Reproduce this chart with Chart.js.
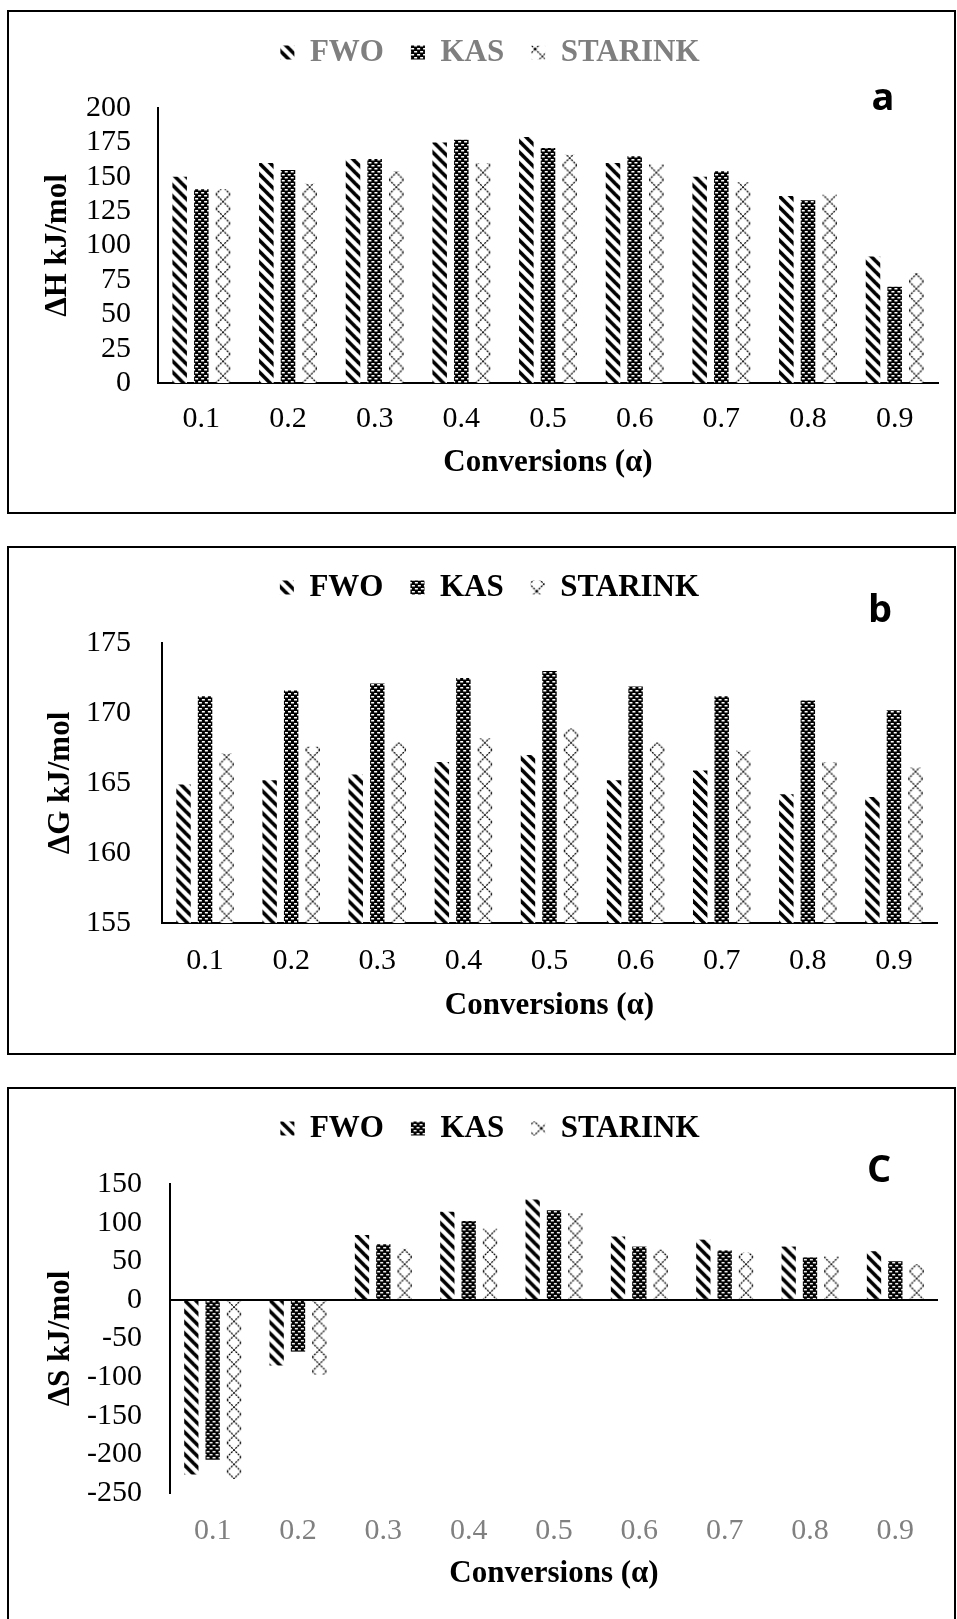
<!DOCTYPE html>
<html>
<head>
<meta charset="utf-8">
<title>ΔH, ΔG, ΔS vs conversion</title>
<script src="https://cdn.jsdelivr.net/npm/chart.js@4.4.1/dist/chart.umd.min.js"></script>
<style>
  html, body { margin: 0; padding: 0; background: #fff; }
  body { position: relative; width: 957px; height: 1619px; overflow: hidden; }
  .frame { position: absolute; left: 7px; width: 949px; border: 2px solid #000; box-sizing: border-box; }
  canvas { position: absolute; left: 0; }
</style>
</head>
<body>
<div class="frame" style="top:10px;height:504px"></div>
<div class="frame" style="top:546px;height:509px"></div>
<div class="frame" style="top:1087px;height:540px"></div>
<canvas id="chartH" width="957" height="514" style="top:0"></canvas>
<canvas id="chartG" width="957" height="521" style="top:534px"></canvas>
<canvas id="chartS" width="957" height="544" style="top:1075px"></canvas>
<script>
const conversions = ["0.1", "0.2", "0.3", "0.4", "0.5", "0.6", "0.7", "0.8", "0.9"];

// ΔH kJ/mol
const enthalpyFWO = [150, 160, 163, 175, 179, 160, 150, 136, 92];
const enthalpyKAS = [141, 155, 163, 177, 171, 165, 154, 133, 70];
const enthalpySTARINK = [141, 145, 154, 160, 166, 159, 146, 137, 80];

// ΔG kJ/mol
const gibbsFWO = [164.9, 165.2, 165.6, 166.5, 167.0, 165.2, 165.9, 164.2, 164.0];
const gibbsKAS = [171.2, 171.6, 172.1, 172.5, 173.0, 171.9, 171.2, 170.9, 170.2];
const gibbsSTARINK = [167.1, 167.6, 167.9, 168.2, 168.9, 167.9, 167.3, 166.5, 166.1];

// ΔS
const entropyFWO = [-226, -85, 84, 114, 130, 82, 78, 69, 63];
const entropyKAS = [-207, -67, 72, 102, 116, 69, 64, 55, 50];
const entropySTARINK = [-232, -97, 66, 92, 112, 65, 61, 56, 46];

const SERIF = '"Liberation Serif", "Times New Roman", serif';
const CAT_PCT = 0.75;
const BAR_PCT = 0.67;

function makeTile(size, draw) {
  const c = document.createElement("canvas");
  c.width = size;
  c.height = size;
  draw(c.getContext("2d"), size);
  return c;
}

// wide downward diagonal
const hatchTile = makeTile(11, (g, s) => {
  g.fillStyle = "#fff";
  g.fillRect(0, 0, s, s);
  g.strokeStyle = "#000";
  g.lineWidth = 3.6;
  for (let k = -1; k <= 1; k++) {
    g.beginPath();
    g.moveTo(-2, -2 + k * s);
    g.lineTo(s + 2, s + 2 + k * s);
    g.stroke();
  }
});

// dark brick
const brickTile = makeTile(6, (g, s) => {
  g.fillStyle = "#000";
  g.fillRect(0, 0, s, s);
  g.fillStyle = "#fff";
  g.fillRect(1, 1, 3, 1.5);
  g.fillRect(4, 4, 3, 1.5);
  g.fillRect(-2, 4, 3, 1.5);
});

// dotted X chain
const crossTile = makeTile(14, (g, s) => {
  g.fillStyle = "#fff";
  g.fillRect(0, 0, s, s);
  g.strokeStyle = "#000";
  g.lineWidth = 1.2;
  g.setLineDash([2, 1]);
  g.beginPath();
  g.moveTo(0, 0);
  g.lineTo(s, s);
  g.moveTo(s, 0);
  g.lineTo(0, s);
  g.stroke();
});

// pattern lined up with the left edge and base of each bar
function barFill(tile, stretch) {
  return (c) => {
    const chart = c.chart;
    const pattern = chart.ctx.createPattern(tile, "repeat");
    const xs = chart.scales.x;
    const ys = chart.scales.y;
    if (c.type !== "data" || !xs || !ys || !chart.chartArea) return pattern;
    const slot = (xs.width / conversions.length) * CAT_PCT / 3;
    const barW = slot * BAR_PCT;
    const left = xs.getPixelForValue(c.dataIndex) - 1.5 * slot + slot * c.datasetIndex + (slot - barW) / 2;
    const m = new DOMMatrix().translateSelf(left, ys.getBasePixel());
    if (stretch) m.scaleSelf(barW / tile.width, barW / tile.width);
    pattern.setTransform(m);
    return pattern;
  };
}

function datasets(fwo, kas, starink) {
  return [
    { label: "FWO", data: fwo, backgroundColor: barFill(hatchTile, false) },
    { label: "KAS", data: kas, backgroundColor: barFill(brickTile, false) },
    { label: "STARINK", data: starink, backgroundColor: barFill(crossTile, true) },
  ];
}

// more room between the legend and the plot
const legendGap = {
  id: "legendGap",
  beforeInit(chart) {
    const fit = chart.legend.fit;
    chart.legend.fit = function () {
      fit.call(this);
      this.height += 30;
    };
  },
};

const panelLetter = {
  id: "panelLetter",
  afterDraw(chart, args, opts) {
    const ctx = chart.ctx;
    ctx.save();
    ctx.font = 'bold 38px "Open Sans"';
    ctx.fillStyle = "#000";
    ctx.textAlign = "center";
    ctx.textBaseline = "alphabetic";
    ctx.fillText(opts.text, opts.x, opts.y);
    ctx.restore();
  },
};

function makeChart(id, p) {
  const yGrid = p.zeroLine
    ? {
        drawTicks: false,
        lineWidth: 2,
        color: (c) => (c.tick && c.tick.value === 0 ? "#000" : "rgba(0,0,0,0)"),
      }
    : { display: false, drawTicks: false };

  return new Chart(document.getElementById(id), {
    type: "bar",
    data: { labels: conversions, datasets: datasets(p.fwo, p.kas, p.starink) },
    options: {
      responsive: false,
      animation: false,
      datasets: { bar: { categoryPercentage: CAT_PCT, barPercentage: BAR_PCT, borderWidth: 0 } },
      layout: { padding: { top: p.padTop, left: 42, right: p.padRight, bottom: 0 } },
      plugins: {
        legend: {
          labels: {
            color: p.legendColor,
            font: { family: SERIF, size: 31, weight: "bold" },
            boxWidth: 14,
            boxHeight: 14,
            padding: 27,
          },
        },
        tooltip: { enabled: false },
        panelLetter: { text: p.letter, x: p.letterX, y: p.letterY },
      },
      scales: {
        x: {
          grid: { display: false, drawTicks: false },
          border: { display: p.xLine, color: "#000", width: 2 },
          ticks: {
            color: p.xTickColor,
            font: { family: SERIF, size: 30 },
            padding: p.xTickPad,
            autoSkip: false,
            maxRotation: 0,
          },
          title: {
            display: true,
            text: "Conversions (α)",
            color: "#000",
            font: { family: SERIF, size: 31, weight: "bold" },
            padding: { top: 0, bottom: p.xTitlePad },
          },
          afterFit: (s) => {
            s.height = p.xHeight;
          },
        },
        y: {
          min: p.min,
          max: p.max,
          ticks: {
            stepSize: p.step,
            autoSkip: false,
            color: "#000",
            font: { family: SERIF, size: 30 },
            padding: p.yTickPad,
          },
          grid: yGrid,
          border: { display: true, color: "#000", width: 2 },
          title: {
            display: true,
            text: p.yTitle,
            color: "#000",
            font: { family: SERIF, size: 31, weight: "bold", lineHeight: 1 },
            padding: { top: p.yTitlePad, bottom: 0 },
          },
          afterFit: (s) => {
            s.width = p.yWidth;
          },
        },
      },
    },
    plugins: [legendGap, panelLetter],
  });
}

makeChart("chartH", {
  fwo: enthalpyFWO, kas: enthalpyKAS, starink: enthalpySTARINK,
  yTitle: "ΔH kJ/mol", min: 0, max: 200, step: 25,
  legendColor: "#7f7f7f", xTickColor: "#000", xLine: true, zeroLine: false,
  padTop: 10, padRight: 19, yWidth: 116, xHeight: 131,
  xTickPad: 18, xTitlePad: 32, yTickPad: 27, yTitlePad: 0.5,
  letter: "a", letterX: 883, letterY: 110,
});

makeChart("chartG", {
  fwo: gibbsFWO, kas: gibbsKAS, starink: gibbsSTARINK,
  yTitle: "ΔG kJ/mol", min: 155, max: 175, step: 5,
  legendColor: "#000", xTickColor: "#000", xLine: true, zeroLine: false,
  padTop: 11, padRight: 20, yWidth: 120, xHeight: 132,
  xTickPad: 20, xTitlePad: 30, yTickPad: 31, yTitlePad: 3.5,
  letter: "b", letterX: 880, letterY: 88,
});

makeChart("chartS", {
  fwo: entropyFWO, kas: entropyKAS, starink: entropySTARINK,
  yTitle: "ΔS kJ/mol", min: -250, max: 150, step: 50,
  legendColor: "#000", xTickColor: "#808080", xLine: false, zeroLine: true,
  padTop: 11, padRight: 19, yWidth: 128, xHeight: 126,
  xTickPad: 20, xTitlePad: 26, yTickPad: 28, yTitlePad: 3.5,
  letter: "C", letterX: 879, letterY: 107,
});
</script>
</body>
</html>
